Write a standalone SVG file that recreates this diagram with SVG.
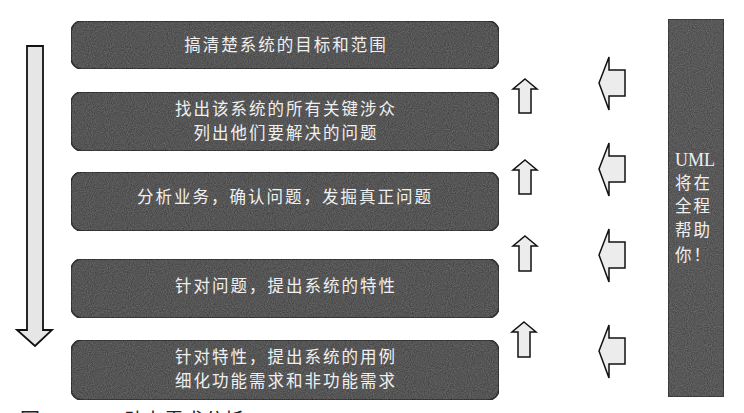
<svg xmlns="http://www.w3.org/2000/svg" width="744" height="413" viewBox="0 0 744 413">
  <style>
    .box { fill: #4a4a4a; stroke: #1a1a1a; stroke-width: 1.6; }
    .bar { fill: #4e4e4e; stroke: #222; stroke-width: 1.6; }
    .arrow { fill: #ececec; stroke: #111; stroke-width: 1.5; stroke-linejoin: miter; }
    .t { font-family: "Noto Sans CJK SC", "Liberation Serif", serif; font-size: 16.5px; fill: #f0f0f0; letter-spacing: 2px; dominant-baseline: central; }
    .c { text-anchor: middle; }
    .u { font-family: "Liberation Serif", "Noto Sans CJK SC", serif; font-size: 18px; fill: #f0f0f0; dominant-baseline: central; }
    .cap { font-family: "Noto Sans CJK SC", "Liberation Serif", serif; font-size: 20px; fill: #222; }
  </style>
  <defs>
    <filter id="grain" x="0" y="0" width="100%" height="100%" color-interpolation-filters="sRGB">
      <feTurbulence type="fractalNoise" baseFrequency="0.95" numOctaves="2" seed="3" result="n"/>
      <feColorMatrix in="n" type="matrix" values="1 0 0 0 0  1 0 0 0 0  1 0 0 0 0  0 0 0 0 0.22" result="g"/>
      <feComposite in="g" in2="SourceGraphic" operator="in" result="gi"/>
      <feMerge><feMergeNode in="SourceGraphic"/><feMergeNode in="gi"/></feMerge>
    </filter>
  </defs>

  <g id="process-arrow">
    <polygon class="arrow" points="27,46 43,46 43,330 52,330 35,346 17,330 27,330" style="fill:#e6e6e6;stroke-width:1.8"/>
  </g>

  <g id="step1">
    <rect class="box" x="71" y="21" width="428" height="48" rx="11" filter="url(#grain)"/>
    <text class="t c" x="286" y="44">搞清楚系统的目标和范围</text>
  </g>
  <g id="step2">
    <rect class="box" x="71" y="92" width="428" height="59" rx="11" filter="url(#grain)"/>
    <text class="t c" x="286" y="108">找出该系统的所有关键涉众</text>
    <text class="t c" x="286" y="132">列出他们要解决的问题</text>
  </g>
  <g id="step3">
    <rect class="box" x="71" y="172" width="428" height="59" rx="11" filter="url(#grain)"/>
    <text class="t c" x="285" y="196">分析业务，确认问题，发掘真正问题</text>
  </g>
  <g id="step4">
    <rect class="box" x="71" y="259" width="428" height="59" rx="11" filter="url(#grain)"/>
    <text class="t c" x="286" y="285">针对问题，提出系统的特性</text>
  </g>
  <g id="step5">
    <rect class="box" x="71" y="340" width="428" height="60" rx="11" filter="url(#grain)"/>
    <text class="t c" x="286" y="356">针对特性，提出系统的用例</text>
    <text class="t c" x="286" y="380">细化功能需求和非功能需求</text>
  </g>

  <g id="uml">
    <rect class="bar" x="668" y="19" width="56" height="378" filter="url(#grain)"/>
    <text class="u" x="675" y="160">UML</text>
    <text class="t" x="675" y="182">将在</text>
    <text class="t" x="675" y="205">全程</text>
    <text class="t" x="675" y="229">帮助</text>
    <text class="t" x="675" y="254">你！</text>
  </g>

  <g id="connectors">
    <polygon class="arrow" points="525,79 537,89 531,89 531,113 519,113 519,89 513,89"/>
    <polygon class="arrow" points="525,160 537,170 531,170 531,194 519,194 519,170 513,170"/>
    <polygon class="arrow" points="525,236 537,246 531,246 531,271 519,271 519,246 513,246"/>
    <polygon class="arrow" points="524,322 536,332 530,332 530,357 518,357 518,332 512,332"/>

    <polygon class="arrow" points="599,83 609,57 609,70 625,70 625,96 609,96 609,110"/>
    <polygon class="arrow" points="599,169 609,143 609,156 625,156 625,182 609,182 609,196"/>
    <polygon class="arrow" points="599,255 609,229 609,242 625,242 625,268 609,268 609,282"/>
    <polygon class="arrow" points="599,351 609,325 609,338 625,338 625,364 609,364 609,378"/>
  </g>

  <text class="cap" x="20" y="428">图 2-1  UML 助力需求分析</text>
</svg>
